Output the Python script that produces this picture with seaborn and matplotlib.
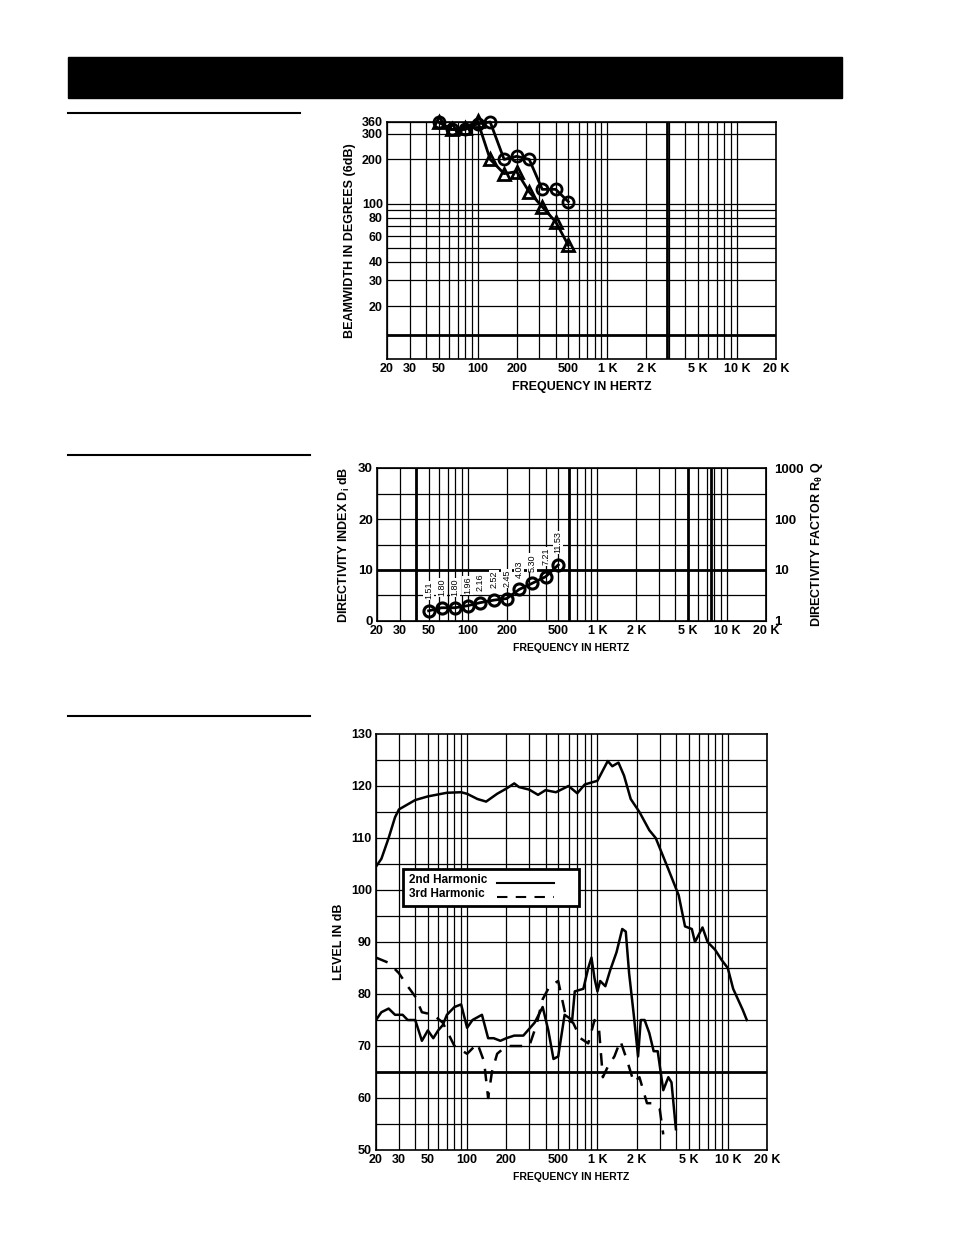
import numpy as np
import pandas as pd
import matplotlib
matplotlib.use("Agg")
import matplotlib.pyplot as plt
from matplotlib.lines import Line2D
from matplotlib.patches import Rectangle
import seaborn as sns

plt.rcParams["font.family"] = "Liberation Sans"
plt.rcParams["font.weight"] = "bold"

# --- chart 1: beamwidth ---
bw_freq = [50, 63, 80, 100, 125, 160, 200, 250, 315, 400, 500]
bw_circle = [360, 320, 320, 350, 360, 200, 210, 200, 125, 125, 103]
bw_triangle = [360, 320, 330, 365, 200, 160, 165, 120, 95, 75, 52]

# --- chart 2: directivity ---
di_freq = [50, 63, 80, 100, 125, 160, 200, 250, 315, 400, 500]
di_db = [2.0, 2.6, 2.6, 3.0, 3.6, 4.1, 4.4, 6.2, 7.4, 8.7, 11.0]
di_q = ["1.51", "1.80", "1.80", "1.96", "2.16", "2.52", "2.45", "4.03", "5.30", "7.21", "11.53"]

# --- chart 3: distortion ---
fund_freq = [20, 22, 25, 28, 30, 40, 50, 70, 90, 100, 120, 140, 170, 200, 230, 250, 300, 350,
             400, 480, 600, 700, 800, 1000, 1200, 1300, 1450, 1600, 1800, 2100, 2500, 2800,
             3500, 4200, 4700, 5300, 5600, 6400, 7000, 8000, 9000, 10000, 11000, 13000, 14000]
fund_db = [104.5, 106, 110, 114, 115.5, 117.3, 118, 118.7, 118.8, 118.5, 117.5, 117, 118.5,
           119.5, 120.5, 119.8, 119.3, 118.3, 119.2, 118.8, 120, 118.6, 120.3, 121, 124.8,
           123.8, 124.5, 122, 117.5, 115, 111.5, 110, 104, 99, 93, 92.5, 90, 92.8, 90, 88.5,
           86.5, 85, 81, 77, 75]
h2_freq = [20, 22, 25, 28, 32, 35, 40, 45, 50, 55, 60, 65, 70, 80, 90, 100, 110, 130, 145, 160,
           180, 200, 230, 270, 330, 380, 420, 460, 500, 560, 640, 670, 780, 850, 900, 950, 1000,
           1050, 1150, 1250, 1400, 1550, 1650, 1750, 1900, 2050, 2150, 2300, 2500, 2700, 2900,
           3200, 3500, 3700, 4000]
h2_db = [75, 76.5, 77.2, 76, 76, 75, 75, 71, 73, 71.5, 73, 74, 76, 77.5, 78, 73.5, 75, 76, 71.5,
         71.5, 71, 71.5, 72, 72, 74.5, 77.5, 73, 67.5, 68, 76, 75, 80.5, 81, 85, 87, 83, 80.5,
         82.5, 81.5, 84.5, 88, 92.5, 92, 84, 76, 68, 75, 75, 72.5, 69, 69, 61.5, 64, 63, 54]
h3_freq = [20, 25, 30, 35, 40, 45, 55, 65, 80, 100, 120, 135, 145, 155, 170, 200, 230, 270, 300,
           340, 380, 430, 500, 580, 650, 740, 850, 950, 1030, 1100, 1200, 1350, 1500, 1700,
           1900, 2100, 2400, 2700, 3000, 3200]
h3_db = [87, 86, 84, 81.5, 79.5, 76.5, 76, 74.5, 70, 68.5, 70.5, 67, 60, 65, 68.5, 70, 70, 70,
         70, 74, 79, 81.5, 82.5, 75, 74.5, 71.5, 70.5, 75, 73, 64, 66, 68, 71, 67, 63, 64, 59,
         59, 58, 53]

freq_ticks = [20, 30, 50, 100, 200, 500, 1000, 2000, 5000, 10000, 20000]
freq_labels = ["20", "30", "50", "100", "200", "500", "1 K", "2 K", "5 K", "10 K", "20 K"]

W, H = 954, 1235
fig = plt.figure(figsize=(W / 100, H / 100), dpi=100)


def box(x0, y0, x1, y1):
    return [x0 / W, 1 - y1 / H, (x1 - x0) / W, (y1 - y0) / H]


fig.patches.append(Rectangle((68 / W, 1 - 98 / H), 774 / W, 41 / H, transform=fig.transFigure,
                             color="black", zorder=5))
for yy, x1 in [(113, 300), (455, 310), (716, 310)]:
    fig.add_artist(Line2D([68 / W, x1 / W], [1 - yy / H, 1 - yy / H], color="black", lw=1.5))

minor_f = [m * 10 ** e for e in range(1, 5) for m in range(1, 10) if 20 <= m * 10 ** e <= 20000]


def freq_axis(ax, xlabel_size=8):
    ax.set_xscale("log")
    ax.set_xlim(20, 20000)
    for f in minor_f:
        ax.axvline(f, color="black", lw=0.9, zorder=0)
    ax.set_xticks(freq_ticks)
    ax.set_xticklabels(freq_labels, fontsize=9, fontweight="bold")
    ax.xaxis.set_minor_locator(matplotlib.ticker.NullLocator())
    ax.tick_params(length=0, pad=3)
    ax.set_xlabel("FREQUENCY IN HERTZ", fontsize=xlabel_size, fontweight="bold")
    for s in ax.spines.values():
        s.set_linewidth(1.2)


# chart 1
ax1 = fig.add_axes(box(387, 122, 776, 359))
freq_axis(ax1, 9)
ax1.set_yscale("log")
ax1.set_ylim(8.7, 360)
for v in [20, 30, 40, 50, 60, 70, 80, 90, 100, 200, 300, 360]:
    ax1.axhline(v, color="black", lw=0.9, zorder=0)
ax1.axhline(12.6, color="black", lw=2, zorder=0)
ax1.axvline(2900, color="black", lw=2, zorder=0)
ax1.set_yticks([20, 30, 40, 60, 80, 100, 200, 300, 360])
ax1.set_yticklabels(["20", "30", "40", "60", "80", "100", "200", "300", "360"], fontsize=9)
ax1.yaxis.set_minor_locator(matplotlib.ticker.NullLocator())
ax1.set_ylabel("BEAMWIDTH IN DEGREES (6dB)", fontsize=9, fontweight="bold")
sns.lineplot(x=bw_freq, y=bw_circle, ax=ax1, color="black", lw=2, marker="o", ms=8,
             mfc="none", mec="black", mew=2, clip_on=False)
sns.lineplot(x=bw_freq, y=bw_triangle, ax=ax1, color="black", lw=2, marker="^", ms=8,
             mfc="none", mec="black", mew=2, clip_on=False)

# chart 2
ax2 = fig.add_axes(box(377, 468, 766, 621))
freq_axis(ax2, 7.5)
ax2.set_ylim(0, 30)
for v in range(5, 30, 5):
    ax2.axhline(v, color="black", lw=0.9 if v != 10 else 2, zorder=0)
for f in [40, 600, 5000, 7500]:
    ax2.axvline(f, color="black", lw=2, zorder=0)
ax2.set_yticks([0, 10, 20, 30])
ax2.set_yticklabels(["0", "10", "20", "30"], fontsize=9.5)
ax2.set_ylabel("DIRECTIVITY INDEX D$_\\mathregular{i}$ dB", fontsize=9, fontweight="bold")
sns.lineplot(x=di_freq, y=di_db, ax=ax2, color="black", lw=2, marker="o", ms=8,
             mfc="none", mec="black", mew=2.2)
for f, v, q in zip(di_freq, di_db, di_q):
    ax2.text(f, v + 2.3, q, rotation=90, fontsize=6.5, fontweight="normal", ha="center",
             va="bottom", bbox=dict(fc="white", ec="none", pad=0.5))
ax2r = ax2.twinx()
ax2r.set_yscale("log")
ax2r.set_ylim(1, 1000)
ax2r.set_yticks([1, 10, 100, 1000])
ax2r.set_yticklabels(["1", "10", "100", "1000"], fontsize=9.5)
ax2r.yaxis.set_minor_locator(matplotlib.ticker.NullLocator())
ax2r.tick_params(length=0, pad=6)
ax2r.set_ylabel("DIRECTIVITY FACTOR R$_\\mathregular{\\theta}$ Q", fontsize=9, fontweight="bold")

# chart 3
ax3 = fig.add_axes(box(376, 734, 767, 1150))
freq_axis(ax3, 7.5)
ax3.set_ylim(50, 130)
for v in range(55, 130, 5):
    ax3.axhline(v, color="black", lw=0.9 if v != 65 else 2, zorder=0)
ax3.set_yticks(range(50, 131, 10))
ax3.set_yticklabels([str(v) for v in range(50, 131, 10)], fontsize=9)
ax3.tick_params(axis="y", length=0)
ax3.set_ylabel("LEVEL IN dB", fontsize=9, fontweight="bold")
sns.lineplot(x=fund_freq, y=fund_db, ax=ax3, color="black", lw=1.8)
sns.lineplot(x=h2_freq, y=h2_db, ax=ax3, color="black", lw=1.8)
sns.lineplot(x=h3_freq, y=h3_db, ax=ax3, color="black", lw=1.8, linestyle=(0, (5, 4)))
ax3.add_patch(Rectangle(((403 - 376) / 391, (1150 - 906) / 416), 176 / 391, 37 / 416,
                        transform=ax3.transAxes, fc="white", ec="black", lw=2, zorder=4))
ax3.text(0.085, 0.649, "2nd Harmonic", transform=ax3.transAxes, fontsize=8.5, va="center",
         zorder=5)
ax3.text(0.085, 0.615, "3rd Harmonic", transform=ax3.transAxes, fontsize=8.5, va="center",
         zorder=5)
ax3.plot([0.31, 0.455], [0.643, 0.643], transform=ax3.transAxes, color="black", lw=1.5, zorder=5)
ax3.plot([0.31, 0.455], [0.609, 0.609], transform=ax3.transAxes, color="black", lw=1.5,
         ls=(0, (5, 4)), zorder=5)

fig.savefig("out.png", dpi=100)
